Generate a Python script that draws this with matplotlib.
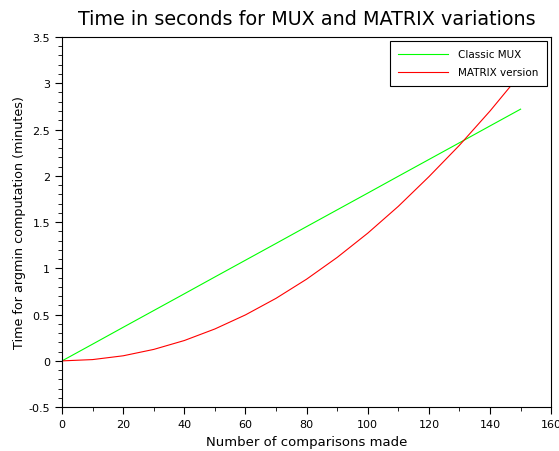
import matplotlib
matplotlib.use("Agg")
import matplotlib.pyplot as plt
from matplotlib.ticker import MultipleLocator

comparisons = [0, 10, 20, 30, 40, 50, 60, 70, 80, 90, 100, 110, 120, 130, 140, 150]
classic_mux = [0, 0.181, 0.363, 0.544, 0.725, 0.907, 1.088, 1.269, 1.451, 1.632,
               1.813, 1.995, 2.176, 2.357, 2.539, 2.72]
matrix_version = [0, 0.014, 0.055, 0.124, 0.22, 0.345, 0.497, 0.676, 0.883, 1.118,
                  1.38, 1.67, 1.99, 2.33, 2.70, 3.10]

fig = plt.figure(figsize=(5.59, 4.52), dpi=100)
ax = fig.add_axes([0.111, 0.097, 0.875, 0.819])

ax.plot(comparisons, classic_mux, color="#00ff00", lw=0.8, label="Classic MUX")
ax.plot(comparisons, matrix_version, color="#ff0000", lw=0.8, label="MATRIX version")

ax.set_xlim(0, 160)
ax.set_ylim(-0.5, 3.5)
ax.xaxis.set_major_locator(MultipleLocator(20))
ax.xaxis.set_minor_locator(MultipleLocator(10))
ax.yaxis.set_major_locator(MultipleLocator(0.5))
ax.yaxis.set_minor_locator(MultipleLocator(0.1))
ax.yaxis.set_major_formatter(plt.FuncFormatter(lambda v, p: f"{v:g}"))
ax.tick_params(which="both", direction="out", labelsize=8, top=False, right=False)
ax.tick_params(which="major", length=5)
ax.tick_params(which="minor", length=3)

ax.set_xlabel("Number of comparisons made", fontsize=9.5)
ax.set_ylabel("Time for argmin computation (minutes)", fontsize=9.2, labelpad=2)
ax.set_title("Time in seconds for MUX and MATRIX variations", fontsize=13.8, pad=9)

leg = ax.legend(loc="upper right", fontsize=7.5, fancybox=False, framealpha=1,
                edgecolor="black", handlelength=4.8, handletextpad=1.0,
                borderpad=0.8, labelspacing=0.75, borderaxespad=0.4)
leg.get_frame().set_linewidth(0.8)

fig.savefig("out.png", dpi=100)
